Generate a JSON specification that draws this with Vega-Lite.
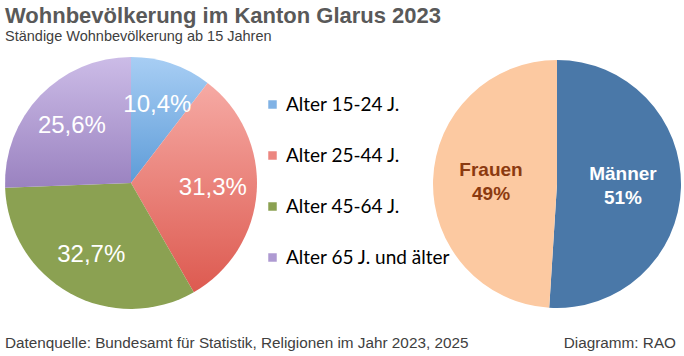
{
  "$schema": "https://vega.github.io/schema/vega-lite/v6.json",
  "padding": {"left": 5, "right": 5, "top": 4, "bottom": 5},
  "background": "white",
  "title": {
    "text": "Wohnbevölkerung im Kanton Glarus 2023",
    "subtitle": "Ständige Wohnbevölkerung ab 15 Jahren",
    "anchor": "start",
    "font": "Liberation Sans",
    "fontSize": 22,
    "fontWeight": "bold",
    "color": "#595959",
    "subtitleFont": "Liberation Sans",
    "subtitleFontSize": 14.5,
    "subtitleColor": "#404040",
    "subtitlePadding": 2,
    "offset": 13
  },
  "datasets": {
    "alter": [
      {"gruppe": "Alter 15-24 J.", "anteil": 0.104},
      {"gruppe": "Alter 25-44 J.", "anteil": 0.313},
      {"gruppe": "Alter 45-64 J.", "anteil": 0.327},
      {"gruppe": "Alter 65 J. und älter", "anteil": 0.256}
    ],
    "geschlecht": [
      {"gruppe": "Männer", "anteil": 0.51},
      {"gruppe": "Frauen", "anteil": 0.49}
    ],
    "quelle": [
      {"text": "Datenquelle: Bundesamt für Statistik, Religionen im Jahr 2023, 2025", "seite": "links"},
      {"text": "Diagramm: RAO", "seite": "rechts"}
    ]
  },
  "vconcat": [
    {
      "hconcat": [
        {
          "width": 252,
          "height": 252,
          "data": {"name": "alter"},
          "encoding": {
            "theta": {"field": "anteil", "type": "quantitative", "stack": true},
            "order": {"field": "gruppe", "type": "nominal", "sort": "ascending"},
            "detail": {"field": "gruppe", "type": "nominal"}
          },
          "layer": [
            {
              "mark": {"type": "arc"},
              "encoding": {
                "fill": {
                  "condition": [
                    {"test": "datum.gruppe === 'Alter 15-24 J.'", "value": {"gradient": "linear", "x1": 0, "y1": 0, "x2": 0, "y2": 1, "stops": [{"offset": 0, "color": "#A8CEF4"}, {"offset": 1, "color": "#5E9CD8"}]}},
                    {"test": "datum.gruppe === 'Alter 25-44 J.'", "value": {"gradient": "linear", "x1": 0, "y1": 0, "x2": 0, "y2": 1, "stops": [{"offset": 0, "color": "#F6AAA4"}, {"offset": 1, "color": "#DD5A50"}]}},
                    {"test": "datum.gruppe === 'Alter 65 J. und älter'", "value": {"gradient": "linear", "x1": 0, "y1": 0, "x2": 0, "y2": 1, "stops": [{"offset": 0, "color": "#CCBCE7"}, {"offset": 1, "color": "#9A82C0"}]}}
                  ],
                  "value": "#8BA152"
                }
              }
            },
            {
              "mark": {"type": "text", "radius": 82, "font": "Liberation Sans", "fontSize": 24},
              "encoding": {
                "text": {"field": "anteil", "type": "quantitative", "format": ".1%"},
                "color": {"value": "white"}
              }
            }
          ]
        },
        {
          "width": 248,
          "height": 254,
          "data": {"name": "geschlecht"},
          "encoding": {
            "theta": {"field": "anteil", "type": "quantitative", "stack": true},
            "order": {"field": "gruppe", "type": "nominal", "sort": "descending"}
          },
          "layer": [
            {
              "mark": {"type": "arc"},
              "encoding": {
                "color": {
                  "field": "gruppe",
                  "type": "nominal",
                  "scale": {
                    "domain": ["Alter 15-24 J.", "Alter 25-44 J.", "Alter 45-64 J.", "Alter 65 J. und älter", "Männer", "Frauen"],
                    "range": ["#80B2E5", "#EC8680", "#8BA152", "#AE9AD2", "#4A78A8", "#FCC9A1"]
                  },
                  "legend": {
                    "values": ["Alter 15-24 J.", "Alter 25-44 J.", "Alter 45-64 J.", "Alter 65 J. und älter"]
                  }
                }
              }
            },
            {
              "mark": {"type": "text", "radius": 66, "dy": -12, "font": "Liberation Sans", "fontSize": 19, "fontWeight": "bold"},
              "encoding": {
                "text": {"field": "gruppe", "type": "nominal"},
                "detail": {"field": "gruppe", "type": "nominal"},
                "color": {"condition": {"test": "datum.gruppe === 'Frauen'", "value": "#8B3A10"}, "value": "white"}
              }
            },
            {
              "mark": {"type": "text", "radius": 66, "dy": 12, "font": "Liberation Sans", "fontSize": 19, "fontWeight": "bold"},
              "encoding": {
                "text": {"field": "anteil", "type": "quantitative", "format": ".0%"},
                "detail": {"field": "gruppe", "type": "nominal"},
                "color": {"condition": {"test": "datum.gruppe === 'Frauen'", "value": "#8B3A10"}, "value": "white"}
              }
            }
          ]
        }
      ],
      "spacing": 176
    },
    {
      "width": 671,
      "height": 20,
      "data": {"name": "quelle"},
      "encoding": {
        "x": {"field": "seite", "type": "nominal", "scale": {"type": "point", "domain": ["links", "rechts"], "padding": 0}, "axis": null},
        "text": {"field": "text", "type": "nominal"}
      },
      "layer": [
        {
          "transform": [{"filter": "datum.seite === 'links'"}],
          "mark": {"type": "text", "align": "left", "font": "Liberation Sans", "fontSize": 15.3, "color": "#404040"}
        },
        {
          "transform": [{"filter": "datum.seite === 'rechts'"}],
          "mark": {"type": "text", "align": "right", "font": "Liberation Sans", "fontSize": 15.3, "color": "#404040"}
        }
      ]
    }
  ],
  "spacing": 22,
  "config": {
    "view": {"stroke": null},
    "locale": {"number": {"decimal": ",", "thousands": "'", "grouping": [3], "currency": ["CHF ", ""]}},
    "legend": {
      "orient": "none",
      "legendX": 258,
      "legendY": 38,
      "title": null,
      "symbolType": "square",
      "symbolSize": 72,
      "symbolStrokeWidth": 0,
      "labelFont": "Lato",
      "labelFontSize": 19,
      "labelColor": "black",
      "labelOffset": 4,
      "labelLimit": 400,
      "rowPadding": 31
    }
  }
}
